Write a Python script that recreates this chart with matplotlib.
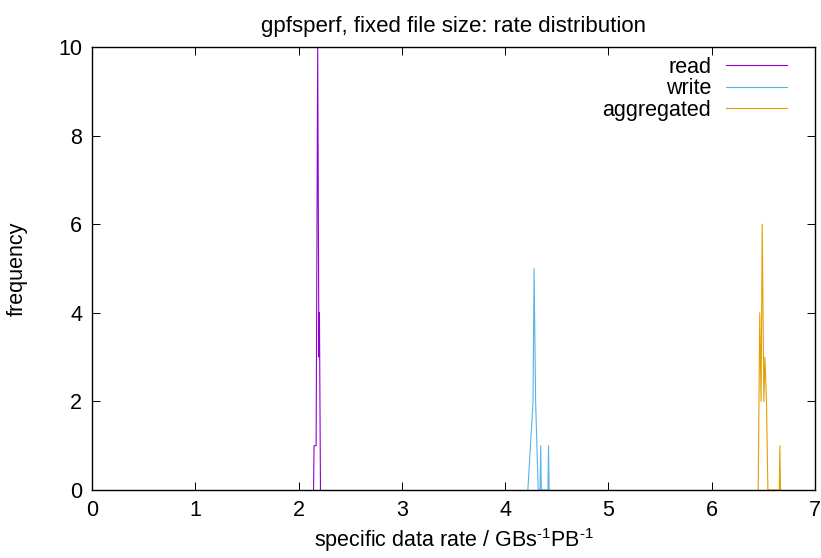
import numpy as np
import matplotlib
matplotlib.use("Agg")
import matplotlib.pyplot as plt

plt.rcParams['font.family'] = ['Liberation Sans', 'DejaVu Sans']
plt.rcParams['mathtext.fontset'] = 'custom'
plt.rcParams['mathtext.rm'] = 'Liberation Sans'

# histogram points (rate, count) for each series
read_x = [2.145, 2.15, 2.17, 2.185, 2.197, 2.202, 2.212]
read_y = [0, 1, 1, 10, 3, 4, 0]

write_x = [4.22, 4.27, 4.28, 4.295, 4.32, 4.338, 4.344, 4.35, 4.414, 4.42, 4.426]
write_y = [0, 2, 5, 2, 0, 0, 1, 0, 0, 1, 0]

aggr_x = [6.45, 6.465, 6.478, 6.489, 6.505, 6.515, 6.53, 6.544, 6.654, 6.66, 6.666]
aggr_y = [0, 4, 2, 6, 2, 3, 2, 0, 0, 1, 0]

labels = ["read", "write", "aggregated"]
colors = ["#9400d3", "#56b4e9", "#e69f00"]

fs = 15.5

fig = plt.figure(figsize=(8.21, 5.58), dpi=100)
ax = fig.add_axes([92/821, 68/558, 723/821, 443/558])

for xs, ys, lab, c in zip([read_x, write_x, aggr_x], [read_y, write_y, aggr_y], labels, colors):
    ax.plot(xs, ys, color=c, lw=0.8, label=lab)

ax.set_xlim(0, 7)
ax.set_ylim(0, 10)
ax.set_xticks(range(0, 8))
ax.set_yticks(range(0, 11, 2))
ax.tick_params(direction='in', length=5.5, width=0.7, top=True, right=True,
               labelsize=fs, pad=7)
for s in ax.spines.values():
    s.set_linewidth(1.0)

ax.set_title("gpfsperf, fixed file size: rate distribution", fontsize=16, pad=11)
ax.set_xlabel(r"specific data rate / GBs$^{\text{-1}}$PB$^{\text{-1}}$",
              fontsize=fs, labelpad=4)
ax.set_ylabel("frequency", fontsize=fs, labelpad=22)

ax.legend(loc='upper right', bbox_to_anchor=(787/821, 501/558),
          bbox_transform=fig.transFigure, frameon=False, markerfirst=False,
          fontsize=fs, handlelength=2.85, labelspacing=0.02, borderpad=0,
          borderaxespad=0, handletextpad=0.67)

fig.savefig("out.png", dpi=100)
